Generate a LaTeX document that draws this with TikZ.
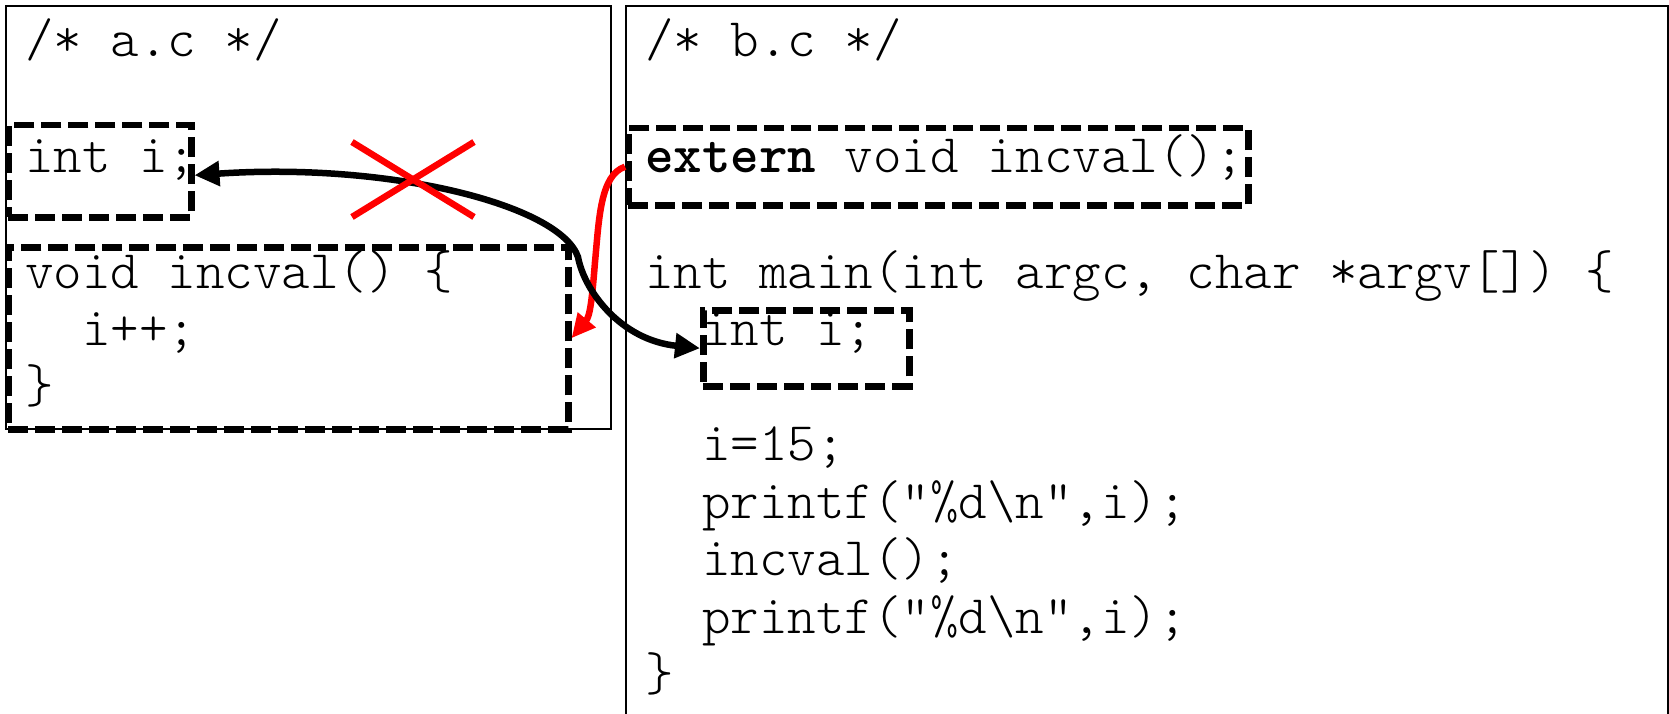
\documentclass[tikz,border=0pt]{standalone}
\usepackage{fontspec}
\usetikzlibrary{arrows.meta}
\begin{document}
\begin{tikzpicture}[x=1pt,y=-1pt,
  panel/.style={draw=black, line width=1.6pt, rectangle, inner sep=0pt, anchor=north west},
  dbox/.style={draw=black, line width=6.5pt, dash pattern=on 20pt off 7pt, rectangle, inner sep=0pt, anchor=north west},
  code/.style={anchor=base west, inner sep=0pt, font=\fontsize{54.3pt}{57.5pt}\selectfont\ttfamily\fontseries{l}\selectfont},
  link/.style={line width=6.5pt, black, {Triangle[length=25pt,width=24pt]}-{Triangle[length=25pt,width=24pt]}},
  call/.style={line width=6.5pt, red, -{Triangle[length=24pt,width=22pt]}},
  cross/.style={line width=6.5pt, red}]
\useasboundingbox (0,0) rectangle (1669,714);
\fill[white] (0,0) rectangle (1669,714);

% source file panels
\node[panel, minimum width=605pt, minimum height=423pt] (fa) at (5,5) {};
\node[panel, minimum width=1042pt, minimum height=740pt] (fb) at (625,5) {};

% highlighted declarations
\node[dbox, minimum width=183pt, minimum height=92pt] (ai) at (5,122) {};
\node[dbox, minimum width=560pt, minimum height=182pt] (av) at (5,244) {};
\node[dbox, minimum width=620pt, minimum height=77pt] (ex) at (625,125) {};
\node[dbox, minimum width=206pt, minimum height=76pt] (mi) at (700,307) {};

% a.c
\node[code] (ha) at (25,57) {/* a.c */};
\node[code] (a1) at (25,172) {int i;};
\node[code] (a2) at (25,288) {void incval() \{};
\node[code] (a3) at (82,345) {i++;};
\node[code] (a4) at (25,402) {\}};

% b.c
\node[code] (hb) at (645,57) {/* b.c */};
\node[code] (b1) at (645,172) {\textbf{extern} void incval();};
\node[code] (b2) at (645,288) {int main(int argc, char *argv[]) \{};
\node[code] (b3) at (702,345) {int i;};
\node[code] (b4) at (702,460) {i=15;};
\node[code] (b5) at (702,518) {printf("\%d\textbackslash n",i);};
\node[code] (b6) at (702,575) {incval();};
\node[code] (b7) at (702,633) {printf("\%d\textbackslash n",i);};
\node[code] (b8) at (645,690) {\}};

% extern declaration resolves to the definition in a.c
\coordinate (rk) at (595,262);
\draw[call] (ex.west) .. controls (600,175) and (599,220) .. (rk)
  .. controls (592,300) and (590,316) .. (av.east);

% the local i is not the global i
\coordinate (bk) at (578,257);
\draw[link] ([yshift=-4pt]ai.east) .. controls (390,162) and (560,205) .. (bk)
  .. controls (584,290) and (620,340) .. (mi.west);

% crossed out
\draw[cross] (352,142) -- (474,217);
\draw[cross] (352,217) -- (474,142);
\end{tikzpicture}
\end{document}
